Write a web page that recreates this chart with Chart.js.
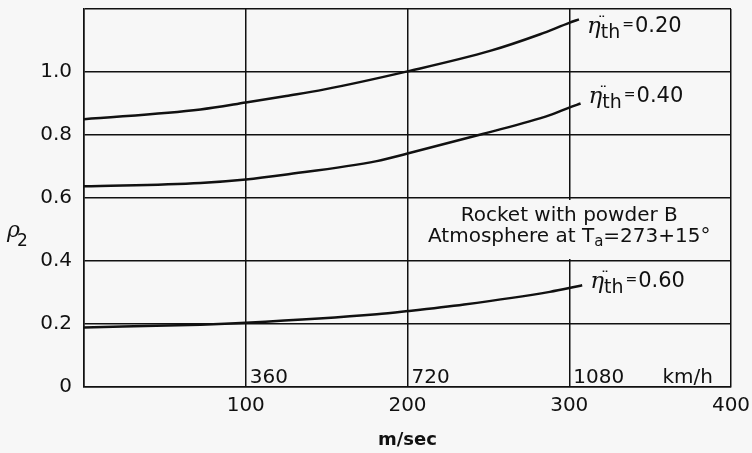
<!DOCTYPE html>
<html>
<head>
<script src="https://cdn.jsdelivr.net/npm/chart.js"></script>
<style>
  body {
    margin: 0;
    background-color: #f7f7f7;
  }
  #box {
    width: 752px;
    height: 453px;
  }
</style>
</head>
<body>
<div id="box">
  <canvas id="myChart"></canvas>
</div>

<script>
  // speed in m/sec and density ratio rho2
  const speed20 = [0, 72, 100, 125, 148, 200, 251, 282, 300, 306];
  const rho20 = [0.850, 0.881, 0.903, 0.924, 0.944, 1.002, 1.067, 1.120, 1.156, 1.167];

  const speed40 = [0, 72, 100, 124, 181, 200, 247, 288, 300, 307];
  const rho40 = [0.637, 0.648, 0.659, 0.674, 0.717, 0.741, 0.804, 0.863, 0.887, 0.900];

  const speed60 = [0, 72, 100, 181, 200, 235, 288, 300, 308];
  const rho60 = [0.189, 0.198, 0.204, 0.231, 0.241, 0.262, 0.302, 0.314, 0.323];

  const etaLabels = ['0.20', '0.40', '0.60'];

  // second speed scale written inside the frame
  const kmhAt = [100, 200, 300];
  const kmhLabels = ['360', '720', '1080'];

  const caption1 = 'Rocket with powder B';
  const caption2 = ['Atmosphere at T', 'a', '=273+15°'];

  var FONT = 'DejaVu Sans';
  var INK = '#111111';
  var BG = '#f7f7f7';

  function pts(xs, ys) {
    return xs.map(function (v, i) { return { x: v, y: ys[i] }; });
  }

  function curve(xs, ys) {
    return {
      data: pts(xs, ys),
      borderColor: INK,
      borderWidth: 2.5,
      pointRadius: 0,
      fill: false,
      cubicInterpolationMode: 'monotone'
    };
  }

  var notes = {
    id: 'notes',
    beforeDatasetsDraw: function (chart) {
      var x = chart.scales.x, y = chart.scales.y, ctx = chart.ctx;
      // the 300 line is left out behind the caption
      var l = x.getPixelForValue(200) + 2, r = x.getPixelForValue(400) - 2;
      var t = y.getPixelForValue(0.6) + 2, b = y.getPixelForValue(0.4) - 2;
      ctx.save();
      ctx.fillStyle = BG;
      ctx.fillRect(l, t, r - l, b - t);
      ctx.restore();
    },
    afterDatasetsDraw: function (chart) {
      var x = chart.scales.x, y = chart.scales.y, ctx = chart.ctx;
      ctx.save();
      ctx.fillStyle = INK;
      ctx.textBaseline = 'alphabetic';
      ctx.textAlign = 'left';

      // km/h numbers along the bottom
      ctx.font = '20px ' + FONT;
      var base = y.getPixelForValue(0) - 4;
      kmhAt.forEach(function (v, i) {
        ctx.fillText(kmhLabels[i], x.getPixelForValue(v) + 4, base);
      });
      ctx.textAlign = 'right';
      ctx.fillText('km/h', x.right - 18, base);
      ctx.textAlign = 'left';

      // curve labels, a little off the end of each line
      var nudge = [8, -7, -3];
      chart.data.datasets.forEach(function (ds, i) {
        var last = ds.data[ds.data.length - 1];
        var px = x.getPixelForValue(last.x) + 8;
        var bl = y.getPixelForValue(last.y) + 5 + nudge[i];
        ctx.font = 'italic 23px DejaVu Serif';
        ctx.fillText('η', px, bl + 1);
        var w = ctx.measureText('η').width;
        ctx.font = '16px ' + FONT;
        ctx.fillText('¨', px + w - 3, bl - 4);
        ctx.font = '19px ' + FONT;
        ctx.fillText('th', px + w, bl + 6);
        w += ctx.measureText('th').width + 2;
        ctx.font = '14px ' + FONT;
        ctx.fillText('=', px + w, bl - 3);
        w += ctx.measureText('=').width + 1;
        ctx.font = '21px ' + FONT;
        ctx.fillText(etaLabels[i], px + w, bl);
      });

      // caption
      var cx = x.getPixelForValue(300);
      ctx.font = '20px ' + FONT;
      ctx.textAlign = 'center';
      ctx.fillText(caption1, cx, y.getPixelForValue(0.526));
      ctx.textAlign = 'left';
      var b2 = y.getPixelForValue(0.46);
      var w1 = ctx.measureText(caption2[0]).width;
      var w3 = ctx.measureText(caption2[2]).width;
      ctx.font = '15px ' + FONT;
      var w2 = ctx.measureText(caption2[1]).width;
      var sx = cx - (w1 + w2 + w3) / 2;
      ctx.font = '20px ' + FONT;
      ctx.fillText(caption2[0], sx, b2);
      ctx.fillText(caption2[2], sx + w1 + w2, b2);
      ctx.font = '15px ' + FONT;
      ctx.fillText(caption2[1], sx + w1, b2 + 4);

      // y title, written upright
      var ty = y.getPixelForValue(0.49);
      ctx.font = 'italic 22px DejaVu Serif';
      ctx.fillText('ρ', 7, ty + 4);
      ctx.font = '17px ' + FONT;
      ctx.fillText('2', 17, ty + 13);
      ctx.restore();
    }
  };

  var data = {
    datasets: [
      curve(speed20, rho20),
      curve(speed40, rho40),
      curve(speed60, rho60)
    ]
  };

  var config = {
    type: 'line',
    data: data,
    plugins: [notes],
    options: {
      responsive: true,
      maintainAspectRatio: false,
      animation: false,
      layout: {
        padding: { left: 0, right: 21, top: 9, bottom: 0 }
      },
      plugins: {
        legend: { display: false },
        tooltip: { enabled: false }
      },
      scales: {
        x: {
          type: 'linear',
          min: 0,
          max: 400,
          afterFit: function (s) {
            s.height = 66;
            s.paddingLeft = 0;
            s.paddingRight = 0;
          },
          border: { display: true, color: INK, width: 1.5 },
          grid: { color: INK, lineWidth: 1.5, drawTicks: false },
          ticks: {
            stepSize: 100,
            color: INK,
            padding: 7,
            maxRotation: 0,
            font: { family: FONT, size: 20 },
            callback: function (v) { return v === 0 ? '' : v; }
          },
          title: {
            display: true,
            text: 'm/sec',
            color: INK,
            font: { family: FONT, size: 18, weight: 'bold' },
            padding: { top: 0, bottom: 2 }
          }
        },
        y: {
          type: 'linear',
          min: 0,
          max: 1.2,
          afterFit: function (s) { s.width = 84; s.paddingTop = 0; },
          border: { display: true, color: INK, width: 1.5 },
          grid: { color: INK, lineWidth: 1.5, drawTicks: false },
          ticks: {
            stepSize: 0.2,
            color: INK,
            padding: 12,
            font: { family: FONT, size: 20 },
            callback: function (v) {
              if (v > 1.15) return '';
              return v === 0 ? '0' : v.toFixed(1);
            }
          }
        }
      }
    }
  };

  myChart = new Chart(document.getElementById('myChart'), config);
</script>
</body>
</html>
